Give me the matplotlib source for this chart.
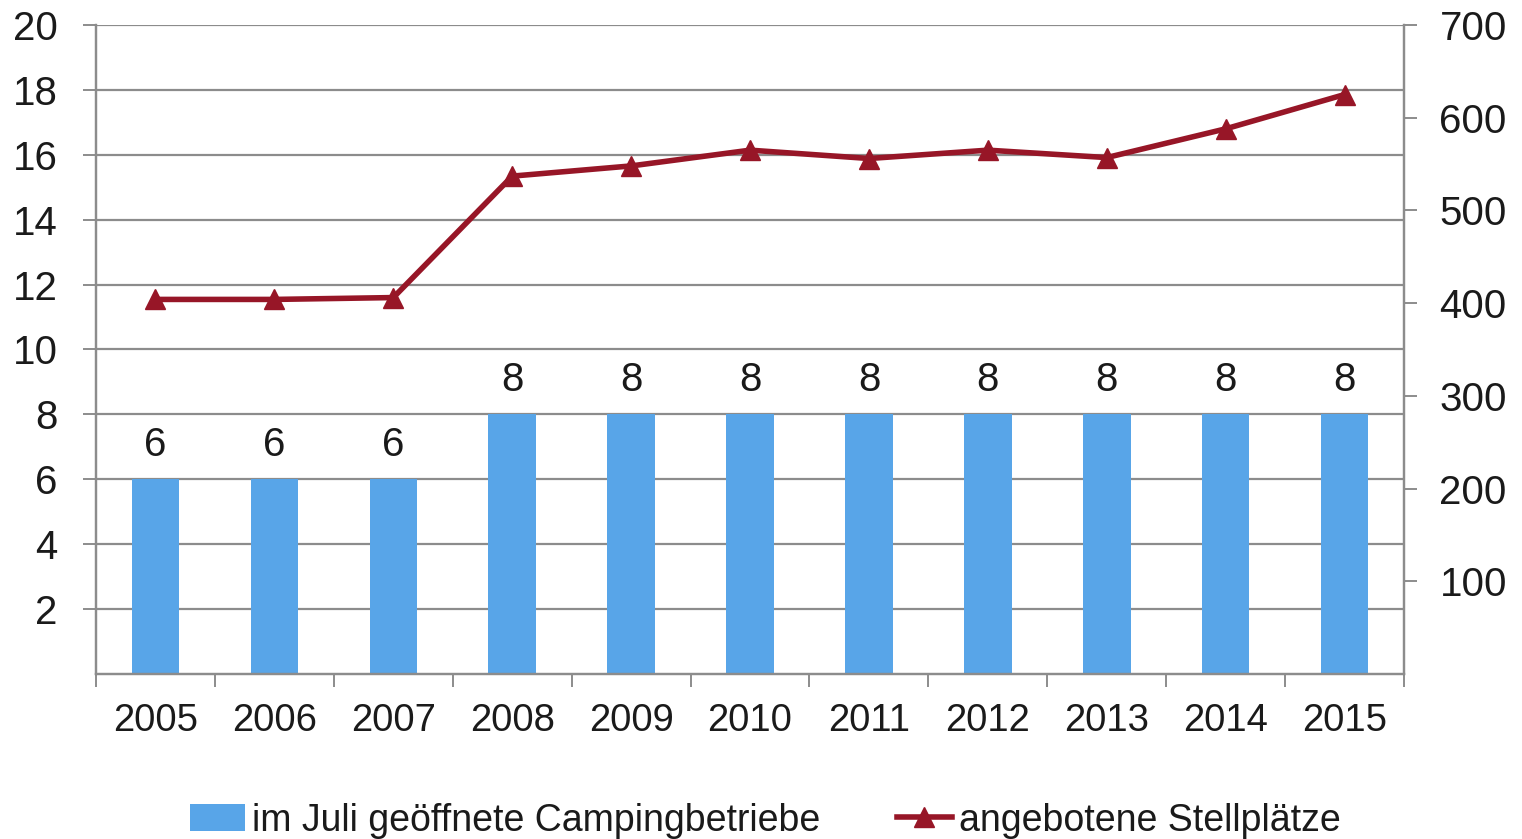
import matplotlib.pyplot as plt
from matplotlib.lines import Line2D
from matplotlib.patches import Patch

years = ["2005", "2006", "2007", "2008", "2009", "2010",
         "2011", "2012", "2013", "2014", "2015"]
betriebe = [6, 6, 6, 8, 8, 8, 8, 8, 8, 8, 8]
stellplaetze = [404, 404, 406, 537, 548, 565, 556, 565, 557, 588, 625]

bar_color = "#58A5E8"
line_color = "#971627"
grid_color = "#8C8C8C"
text_color = "#1A1A1A"

plt.rcParams["font.family"] = ["Liberation Sans", "DejaVu Sans"]

fig = plt.figure(figsize=(15.22, 8.39), dpi=100)
ax = fig.add_axes([0.0631, 0.1967, 0.8594, 0.7735])
ax2 = ax.twinx()

x = list(range(len(years)))
ax.bar(x, betriebe, width=0.4, color=bar_color, zorder=2)
for i, v in enumerate(betriebe):
    ax.text(i, v + 0.72, str(v), ha="center", va="baseline",
            fontsize=29, color=text_color)

ax.set_xlim(-0.5, len(years) - 0.5)
ax.set_ylim(0, 20)
ax.set_yticks(range(2, 21, 2))
ax.yaxis.grid(True, color=grid_color, linewidth=1.6, zorder=0)
ax.set_axisbelow(True)
ax.tick_params(axis="y", length=9.5, width=1.4, color=grid_color,
               labelsize=29, labelcolor=text_color, pad=18)

# category labels centred, tick marks between categories
ax.set_xticks(x)
ax.set_xticklabels(years)
ax.set_xticks([i - 0.5 for i in range(len(years) + 1)], minor=True)
ax.tick_params(axis="x", which="major", length=0, labelsize=27.5,
               labelcolor=text_color, pad=21)
ax.tick_params(axis="x", which="minor", length=9, width=1.4, color=grid_color)

for side in ["left", "right", "bottom"]:
    ax.spines[side].set_color(grid_color)
    ax.spines[side].set_linewidth(1.6)
    ax2.spines[side].set_color(grid_color)
    ax2.spines[side].set_linewidth(1.6)
ax.spines["top"].set_visible(False)
ax2.spines["top"].set_visible(False)

ax2.plot(x, stellplaetze, color=line_color, linewidth=4,
         marker="^", markersize=15, zorder=3)
ax2.set_ylim(0, 700)
ax2.set_yticks(range(100, 701, 100))
ax2.tick_params(axis="y", length=9.5, width=1.4, color=grid_color,
                labelsize=29, labelcolor=text_color, pad=16)

handles = [
    Patch(facecolor=bar_color, edgecolor="none"),
    Line2D([0], [0], color=line_color, linewidth=4, marker="^", markersize=15),
]
labels = ["im Juli geöffnete Campingbetriebe", "angebotene Stellplätze"]
fig.legend(handles, labels, loc="center", bbox_to_anchor=(0.503, 0.022),
           ncol=2, frameon=False, fontsize=27, handlelength=1.45,
           handletextpad=0.2, columnspacing=2.05, labelcolor=text_color)

fig.savefig("out.png", dpi=100)
